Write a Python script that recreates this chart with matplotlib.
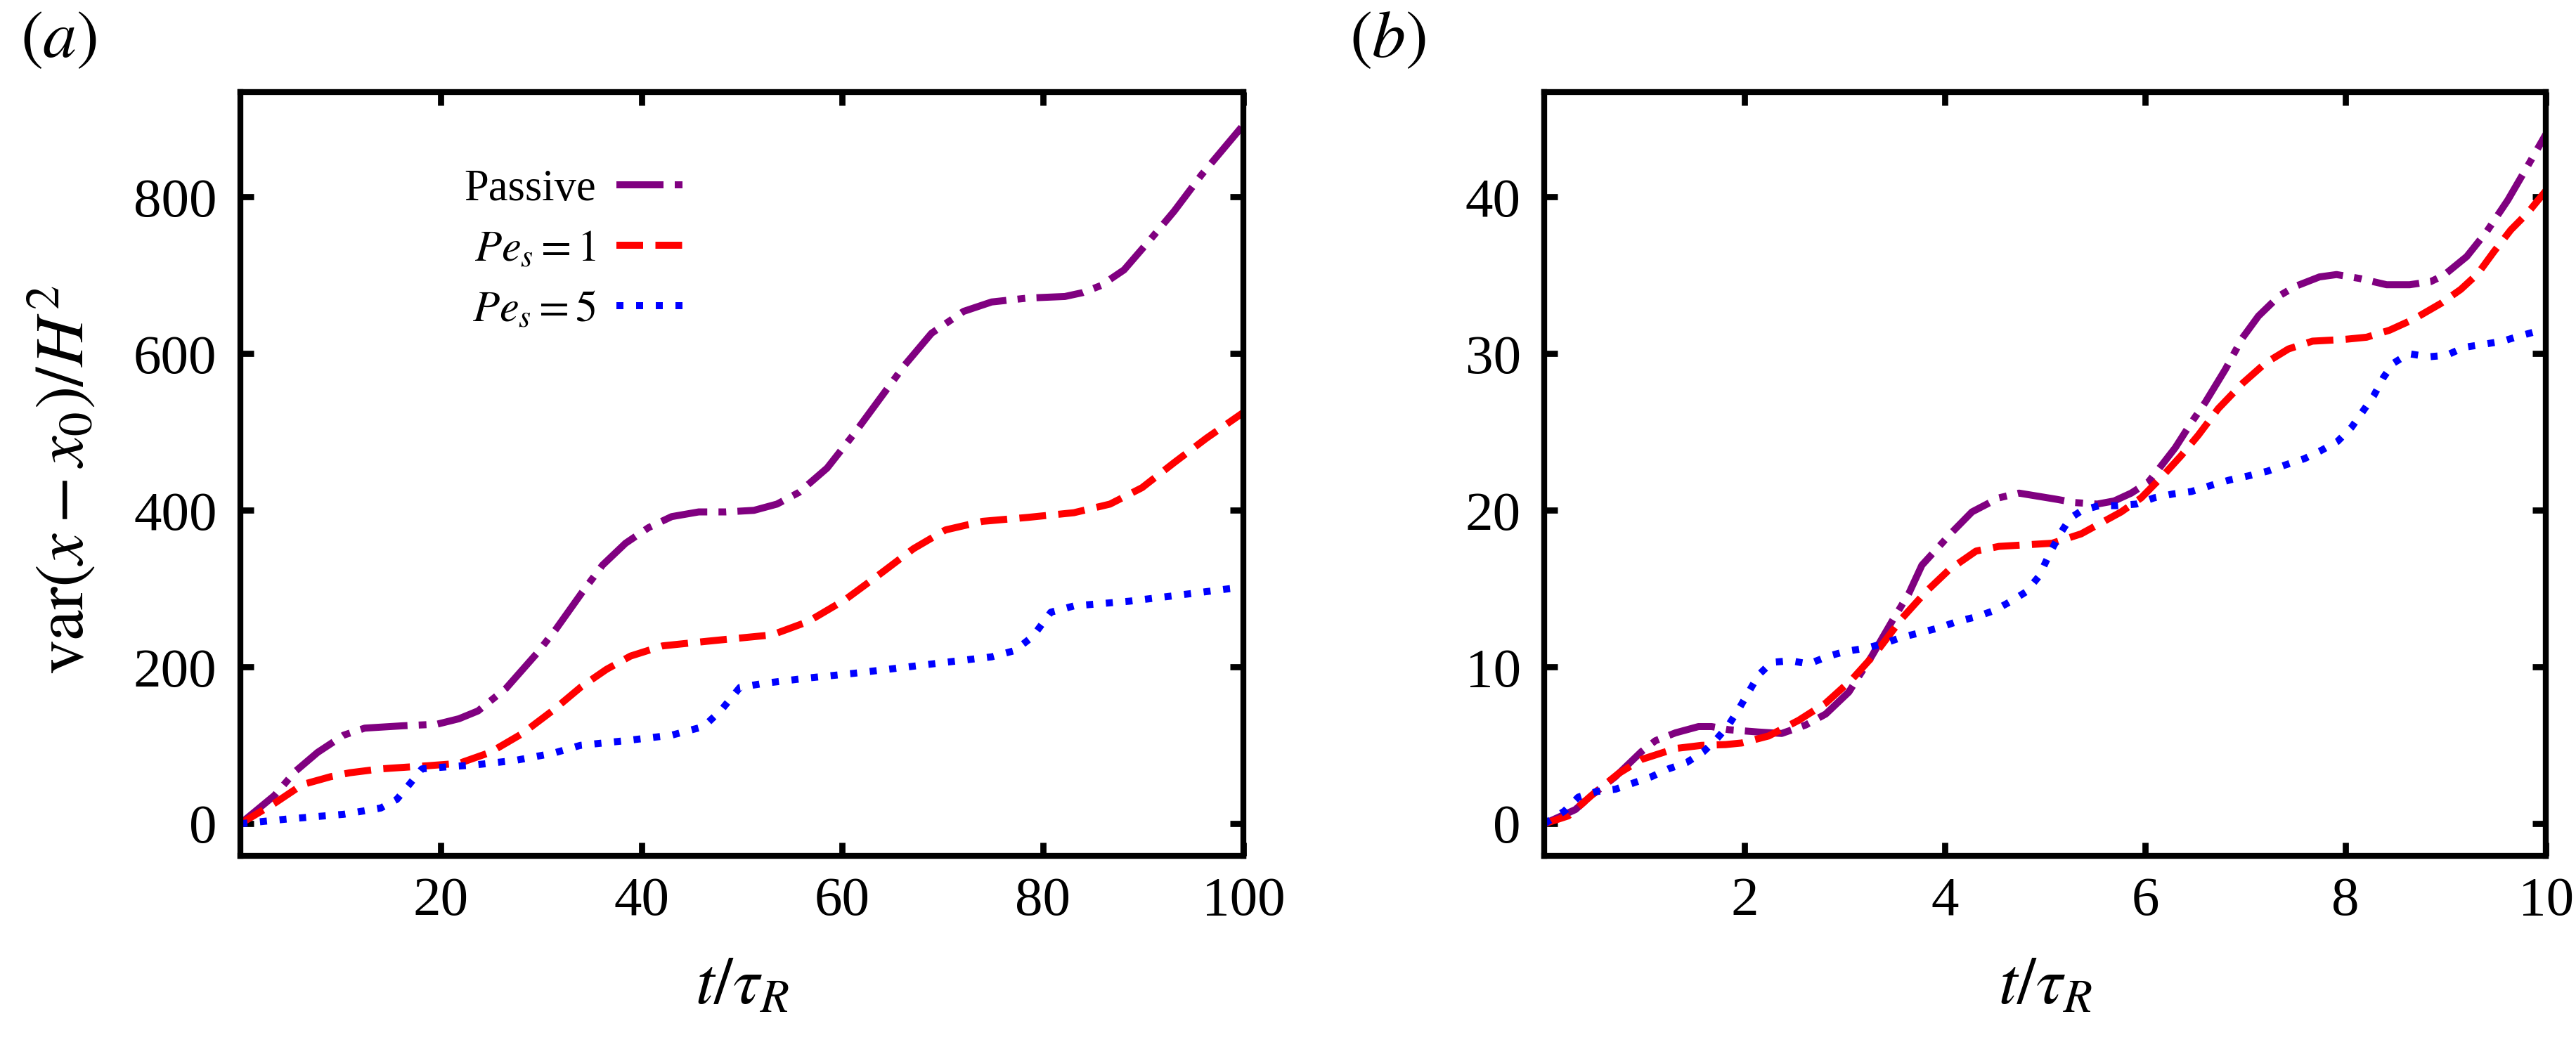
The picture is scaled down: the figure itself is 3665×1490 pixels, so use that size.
# varianza del desplazamiento vs tiempo, paneles (a) y (b)
import numpy as np
import matplotlib
matplotlib.use('Agg')
import matplotlib.pyplot as plt

plt.rcParams['font.family'] = ['Liberation Serif', 'DejaVu Serif']
plt.rcParams['mathtext.fontset'] = 'stix'

# ---- datos panel (a): t/tau_R de 0 a 100 ----
t_pas_a = [0, 3.4, 5.5, 7.7, 10.3, 12.4, 16.2, 19.6, 21.8, 23.7, 26.5, 29.6, 31.5, 34.0,
           36.1, 38.4, 40.7, 43.0, 45.7, 48.4, 51.2, 53.5, 55.7, 58.5, 61.2, 63.9, 66.2,
           68.9, 72.1, 74.9, 78.5, 82.2, 84.0, 85.8, 88.1, 90.8, 93.1, 95.8, 100]
v_pas_a = [0, 36, 67, 91, 113, 122, 125, 127, 134, 144, 173, 218, 249, 294,
           330, 358, 378, 392, 398, 398, 400, 408, 423, 454, 498, 545, 585,
           626, 654, 666, 671, 673, 678, 687, 707, 747, 782, 828, 892]

t_pe1_a = [0, 3.4, 6.2, 9.0, 10.9, 14.0, 18.7, 21.8, 24.9, 28.1, 31.2, 34.0, 36.5, 38.9,
           42.1, 46.6, 53.0, 56.6, 60.3, 63.9, 67.1, 70.3, 74.0, 78.5, 83.1, 86.7, 89.9,
           93.1, 96.3, 100]
v_pe1_a = [0, 26, 50, 60, 65, 70, 74, 77, 91, 115, 145, 175, 197, 214,
           227, 233, 241, 258, 286, 320, 351, 375, 386, 391, 397, 408, 429,
           461, 492, 525]

t_pe5_a = [0, 4.7, 10.3, 14.0, 15.6, 16.9, 18.1, 20.0, 23.4, 27.5, 31.2, 33.9, 38.4, 43.0,
           46.2, 48.0, 49.8, 52.1, 56.6, 61.2, 65.8, 70.3, 74.9, 77.2, 79.0, 80.8, 83.1,
           88.6, 93.1, 98.6, 100]
v_pe5_a = [0, 6, 12, 20, 31, 51, 70, 72, 75, 81, 90, 100, 106, 113,
           124, 146, 174, 179, 186, 192, 199, 206, 213, 221, 239, 270, 278,
           284, 291, 300, 302]

# ---- datos panel (b): t/tau_R de 0 a 10 ----
t_pas_b = [0, 0.31, 0.47, 0.71, 0.97, 1.11, 1.31, 1.54, 1.67, 1.84, 2.14, 2.37, 2.61, 2.81,
           3.04, 3.27, 3.47, 3.64, 3.77, 3.97, 4.07, 4.27, 4.54, 4.74, 5.12, 5.29, 5.52,
           5.69, 5.86, 6.03, 6.13, 6.3, 6.46, 6.6, 6.8, 6.97, 7.13, 7.34, 7.5, 7.74, 7.91,
           8.14, 8.41, 8.64, 8.85, 8.98, 9.21, 9.41, 9.62, 9.82, 10]
v_pas_b = [0, 0.9, 1.8, 3.0, 4.6, 5.3, 5.8, 6.2, 6.2, 6.0, 5.85, 5.76, 6.3, 7.0,
           8.4, 10.7, 12.9, 14.7, 16.5, 17.9, 18.6, 19.9, 20.8, 21.1, 20.7, 20.5, 20.4,
           20.6, 21.1, 21.8, 22.6, 24.0, 25.6, 26.9, 29.0, 31.0, 32.4, 33.7, 34.3, 34.9, 35.05,
           34.8, 34.4, 34.4, 34.6, 35.0, 36.2, 37.8, 39.8, 42.0, 44.0]

t_pe1_b = [0, 0.24, 0.47, 0.74, 0.97, 1.31, 1.57, 1.81, 1.97, 2.24, 2.54, 2.81, 3.07, 3.31,
           3.57, 3.81, 4.04, 4.31, 4.54, 5.07, 5.36, 5.56, 5.76, 5.96, 6.16, 6.36, 6.53,
           6.73, 6.97, 7.2, 7.43, 7.67, 7.97, 8.21, 8.44, 8.68, 8.95, 9.15, 9.32, 9.48,
           9.65, 9.82, 10]
v_pe1_b = [0, 0.5, 1.8, 3.2, 4.1, 4.8, 5.0, 5.05, 5.15, 5.6, 6.6, 7.7, 9.2, 10.9,
           13.1, 14.8, 16.2, 17.4, 17.7, 17.9, 18.5, 19.2, 19.9, 20.8, 22.1, 23.5, 24.8,
           26.5, 28.1, 29.4, 30.3, 30.8, 30.9, 31.05, 31.5, 32.2, 33.2, 34.1, 35.1, 36.5,
           37.9, 39.0, 40.4]

t_pe5_b = [0, 0.2, 0.34, 0.52, 0.71, 0.89, 1.07, 1.24, 1.42, 1.59, 1.72, 1.84, 1.94, 2.04,
           2.14, 2.27, 2.46, 2.64, 2.84, 3.01, 3.21, 3.39, 3.57, 3.76, 3.94, 4.12, 4.31,
           4.49, 4.66, 4.81, 4.94, 5.05, 5.15, 5.25, 5.37, 5.54, 5.72, 5.91, 6.09, 6.28,
           6.46, 6.66, 6.85, 7.03, 7.22, 7.4, 7.59, 7.75, 7.92, 8.06, 8.17, 8.28, 8.38,
           8.48, 8.63, 8.83, 9.01, 9.18, 9.38, 9.57, 9.75, 9.95, 10]
v_pe5_b = [0, 0.8, 1.7, 2.05, 2.2, 2.6, 3.0, 3.5, 3.9, 4.6, 5.4, 6.3, 7.3, 8.4,
           9.5, 10.3, 10.4, 10.2, 10.7, 11.0, 11.2, 11.5, 11.9, 12.2, 12.5, 12.9, 13.2,
           13.6, 14.2, 14.8, 15.8, 17.3, 18.5, 19.5, 20.0, 20.3, 20.3, 20.4, 20.8, 21.05,
           21.2, 21.6, 21.95, 22.2, 22.5, 22.9, 23.3, 23.8, 24.4, 25.3, 26.3, 27.3, 28.5,
           29.4, 30.0, 29.8, 29.9, 30.4, 30.6, 30.8, 31.15, 31.5, 31.6]

etiquetas = ['Passive', r'$Pe_s = 1$', r'$Pe_s = 5$']
colores = ['#800080', '#ff0000', '#0000ff']
guiones = [(6.7, 1.6, 1.1, 1.6), (3.8, 1.75), (1.0, 1.8)]

xticks_a = [20, 40, 60, 80, 100]
yticks_a = [0, 200, 400, 600, 800]
xticks_b = [2, 4, 6, 8, 10]
yticks_b = [0, 10, 20, 30, 40]

fig = plt.figure(figsize=(3665 / 300, 1490 / 300), dpi=300)
ax1 = fig.add_axes([0.0933, 0.1826, 0.3894, 0.7295])
ax2 = fig.add_axes([0.5995, 0.1826, 0.3888, 0.7295])

series_a = [(t_pas_a, v_pas_a), (t_pe1_a, v_pe1_a), (t_pe5_a, v_pe5_a)]
series_b = [(t_pas_b, v_pas_b), (t_pe1_b, v_pe1_b), (t_pe5_b, v_pe5_b)]

for ax, series in [(ax1, series_a), (ax2, series_b)]:
    for (t, v), lab, c, d in zip(series, etiquetas, colores, guiones):
        ax.plot(t, v, color=c, lw=2.4, dashes=d, label=lab)
    for s in ax.spines.values():
        s.set_linewidth(2.0)
    ax.tick_params(direction='in', top=True, right=True, length=4.5, width=2.1,
                   labelsize=19)
    ax.tick_params(axis='x', pad=7)
    ax.tick_params(axis='y', pad=8)
    ax.set_xlabel(r'$t/\tau_R$', fontsize=23)
    ax.xaxis.set_label_coords(0.5, -0.132)

ax1.set_xlim(0, 100)
ax1.set_ylim(-41, 934)
ax1.set_xticks(xticks_a)
ax1.set_yticks(yticks_a)
ax1.set_ylabel(r'$\mathrm{var}(x-x_0)/H^2$', fontsize=23.5)
ax1.yaxis.set_label_coords(-0.1416, 0.492)

ax2.set_xlim(0, 10)
ax2.set_ylim(-2.05, 46.7)
ax2.set_xticks(xticks_b)
ax2.set_yticks(yticks_b)

ax1.legend(loc='upper left', bbox_to_anchor=(0.223, 0.899), frameon=False,
           markerfirst=False, fontsize=15, handlelength=1.55, handletextpad=0.46,
           borderaxespad=0, borderpad=0, labelspacing=0.45)

fig.text(0.008, 0.99, r'$(a)$', fontsize=23, va='top', ha='left')
fig.text(0.524, 0.99, r'$(b)$', fontsize=23, va='top', ha='left')

fig.savefig('out.png', dpi=300)
